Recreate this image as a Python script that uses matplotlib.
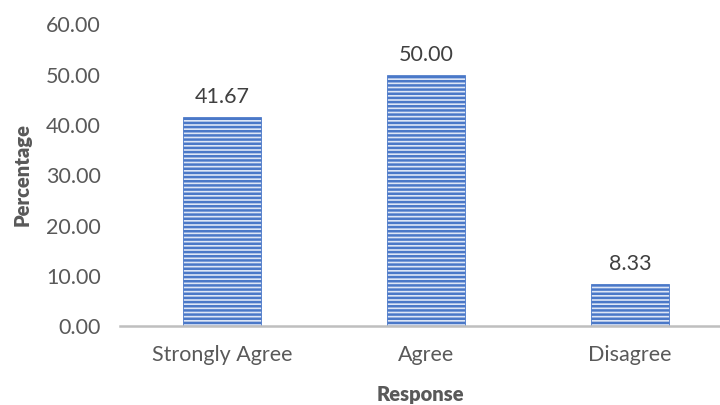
import matplotlib.pyplot as plt

categories = ['Strongly Agree', 'Agree', 'Disagree']
values = [41.67, 50.00, 8.33]
yticks = [0, 10, 20, 30, 40, 50, 60]

plt.rcParams['font.family'] = ['Lato', 'DejaVu Sans']
plt.rcParams['hatch.linewidth'] = 1.8

fig = plt.figure(figsize=(7.2, 4.05), dpi=100)
ax = fig.add_axes([120/720, 1 - 326/405, 1 - 120/720, (326 - 24.5)/405])

x = range(len(categories))
bars = ax.bar(x, values, width=0.38, color='#dde6f6', edgecolor='#4a78c8',
              hatch='----', linewidth=0.6)

for xi, v in zip(x, values):
    ax.annotate('%.2f' % v, (xi, v), xytext=(0, 7), textcoords='offset points',
                ha='center', va='bottom', fontsize=15.5, color='#404040')

ax.set_xlim(-0.5, 600/204 - 0.5)
ax.set_ylim(0, 60)
ax.set_yticks(yticks)
ax.set_yticklabels(['%.2f' % t for t in yticks], fontsize=15.5, color='#595959')
ax.set_xticks(list(x))
ax.set_xticklabels(categories, fontsize=15.5, color='#595959')
ax.tick_params(axis='y', length=0, pad=14)
ax.tick_params(axis='x', length=0, pad=14)

for s in ['top', 'right', 'left']:
    ax.spines[s].set_visible(False)
ax.spines['bottom'].set_color('#bfbfbf')
ax.spines['bottom'].set_linewidth(1.8)

fig.text(420/720, 1 - 394/405, 'Response', ha='center', va='center',
         fontsize=14.5, fontweight='heavy', color='#595959')
fig.text(22/720, 1 - 175/405, 'Percentage', ha='center', va='center',
         rotation=90, fontsize=14.5, fontweight='heavy', color='#595959')

fig.savefig('out.png', dpi=100)
